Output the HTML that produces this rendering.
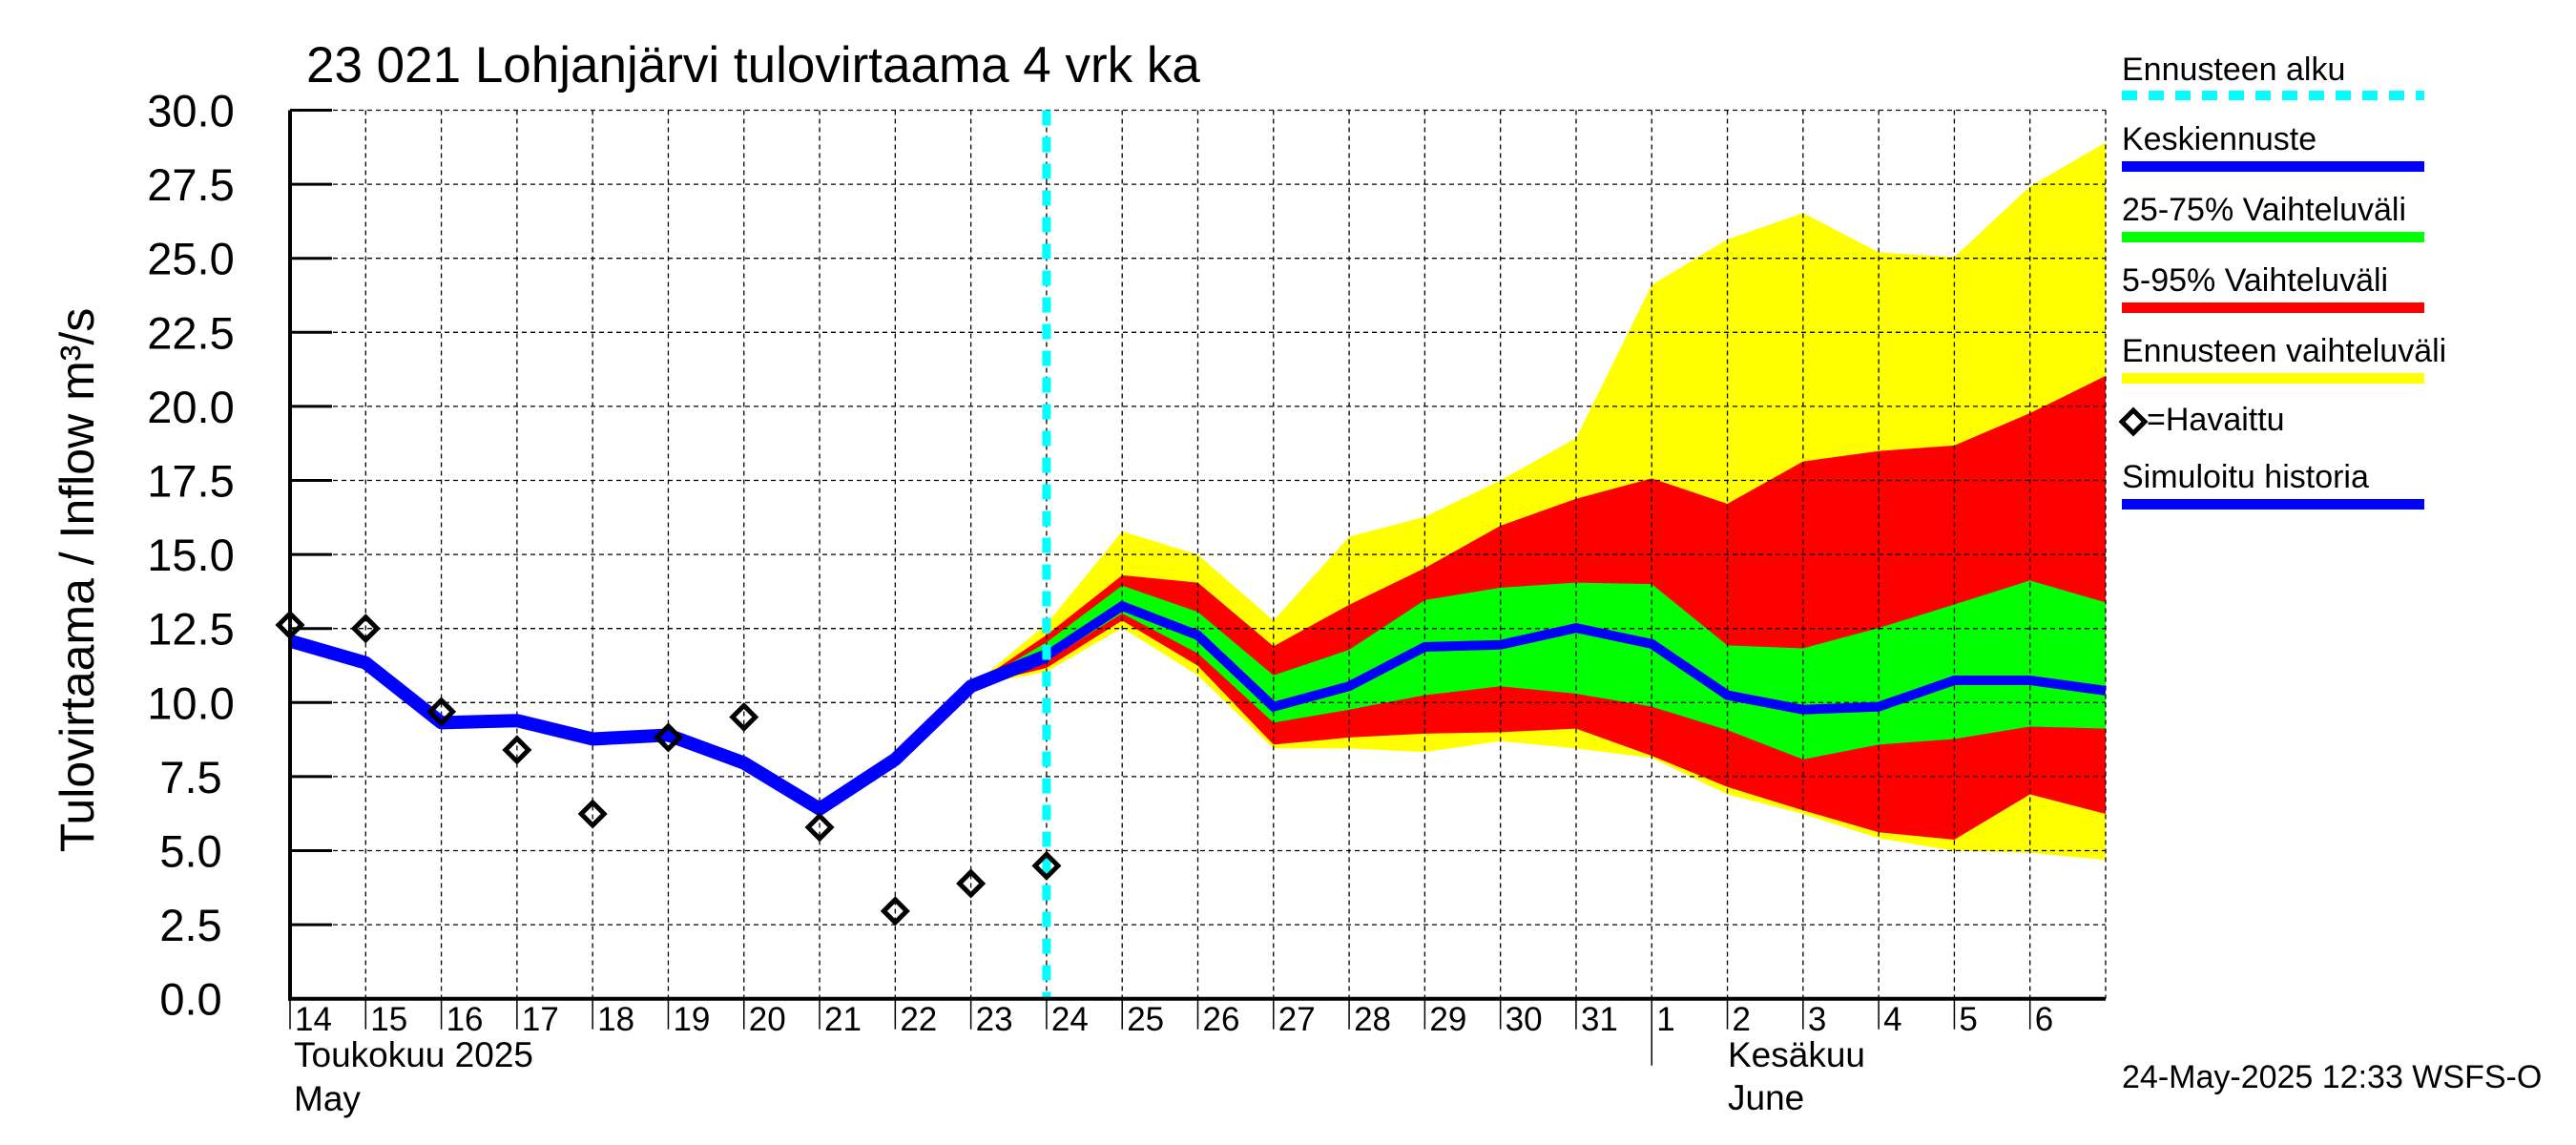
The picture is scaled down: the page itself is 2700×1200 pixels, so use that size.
<!DOCTYPE html>
<html><head><meta charset="utf-8"><style>
html,body{margin:0;padding:0;background:#fff}
svg{display:block;font-family:"Liberation Sans",sans-serif}
</style></head><body>
<svg id="chart" width="2700" height="1200" viewBox="0 0 2700 1200" xmlns="http://www.w3.org/2000/svg">
<text x="321" y="86" font-size="53">23 021 Lohjanjärvi tulovirtaama 4 vrk ka</text>
<g id="bands"></g>
<g id="grid"></g>
<g id="lines"></g>
<g id="axes"></g>
<text transform="translate(98,608) rotate(-90)" text-anchor="middle" font-size="50">Tulovirtaama / Inflow    m³/s</text>
<text x="308" y="1118" font-size="37">Toukokuu  2025</text>
<text x="308" y="1164" font-size="37">May</text>
<text x="1811" y="1118" font-size="37">Kesäkuu</text>
<text x="1811" y="1163" font-size="37">June</text>
<g font-size="34">
<text x="2224" y="84">Ennusteen alku</text>
<line x1="2224" y1="100" x2="2541" y2="100" stroke="#00ffff" stroke-width="10" stroke-dasharray="16,12"/>
<text x="2224" y="157">Keskiennuste</text>
<rect x="2224" y="169" width="317" height="11" fill="#0000ff"/>
<text x="2224" y="231">25-75% Vaihteluväli</text>
<rect x="2224" y="243" width="317" height="11" fill="#00ff00"/>
<text x="2224" y="305">5-95% Vaihteluväli</text>
<rect x="2224" y="317" width="317" height="11" fill="#ff0000"/>
<text x="2224" y="379">Ennusteen vaihteluväli</text>
<rect x="2224" y="391" width="317" height="11" fill="#ffff00"/>
<path d="M2224,442 L2236,430 L2248,442 L2236,454 Z" fill="none" stroke="#000" stroke-width="5"/>
<text x="2250" y="451">=Havaittu</text>
<text x="2224" y="511">Simuloitu historia</text>
<rect x="2224" y="523" width="317" height="11" fill="#0000ff"/>
</g>
<text x="2224" y="1140" font-size="34">24-May-2025 12:33 WSFS-O</text>
</svg>
<script>
const dayLabels=["14","15","16","17","18","19","20","21","22","23","24","25","26","27","28","29","30","31","1","2","3","4","5","6"];
const yTicks=["0.0","2.5","5.0","7.5","10.0","12.5","15.0","17.5","20.0","22.5","25.0","27.5","30.0"];
const simHistory=[12.08,11.34,9.32,9.39,8.77,8.9,7.96,6.41,8.08,10.55,11.58];
const observed=[12.62,12.5,9.69,8.4,6.24,8.82,9.51,5.79,2.96,3.89,4.49];
const forecastStartDay=9; // index of day 23 where forecasts start
const median=[10.55,11.58,13.26,12.27,9.86,10.55,11.88,11.95,12.52,11.98,10.25,9.76,9.86,10.75,10.75,10.40];
const yellowHi=[10.55,12.65,15.78,14.99,12.77,15.6,16.27,17.5,18.93,24.1,25.64,26.53,25.2,25.04,27.43,28.91];
const yellowLo=[10.55,11.04,12.52,10.92,8.45,8.45,8.33,8.7,8.45,8.13,6.9,6.24,5.42,5.0,4.93,4.68];
const redHi=[10.55,12.28,14.3,14.05,11.9,13.3,14.54,15.97,16.88,17.57,16.71,18.14,18.49,18.68,19.77,21.03];
const redLo=[10.55,11.17,12.77,11.24,8.58,8.82,8.95,9.0,9.12,8.2,7.15,6.36,5.62,5.37,6.9,6.24];
const greenHi=[10.55,12.03,13.95,13.06,10.92,11.78,13.46,13.88,14.05,14.0,11.93,11.83,12.52,13.31,14.12,13.38];
const greenLo=[10.55,11.41,13.01,11.66,9.32,9.76,10.25,10.55,10.30,9.86,9.07,8.08,8.58,8.77,9.19,9.12];
const forecastLineDay=10;

const NS="http://www.w3.org/2000/svg";
const X0=304,X1=2207,Y0=1046.7,Y1=115.5,NDAYS=24,YMAX=30;
const xs=d=>X0+d*(X1-X0)/NDAYS;
const ys=v=>Y0-v*(Y0-Y1)/YMAX;
function mk(tag,attrs,parent){const e=document.createElementNS(NS,tag);for(const k in attrs)e.setAttribute(k,attrs[k]);parent.appendChild(e);return e;}
const grid=document.getElementById('grid'),axes=document.getElementById('axes'),bands=document.getElementById('bands'),lines=document.getElementById('lines');

function band(hi,lo,color,name){
  let pts=[];
  hi.forEach((v,i)=>pts.push(xs(forecastStartDay+i)+','+ys(v)));
  for(let i=lo.length-1;i>=0;i--)pts.push(xs(forecastStartDay+i)+','+ys(lo[i]));
  const p=mk('polygon',{points:pts.join(' '),fill:color},bands);
  
  
}
band(yellowHi,yellowLo,'#ffff00','band-forecast-range');
band(redHi,redLo,'#ff0000','band-5-95');
band(greenHi,greenLo,'#00ff00','band-25-75');

for(let d=1;d<=NDAYS;d++){
  const l=mk('line',{x1:xs(d),x2:xs(d),y1:Y1,y2:Y0,stroke:'#000','stroke-width':1.3,'stroke-dasharray':'5,4'},grid);
  
  
}
yTicks.forEach((t,i)=>{
  const v=parseFloat(t),y=ys(v);
  if(i>0){
    const g=mk('line',{x1:X0,x2:X1,y1:y,y2:y,stroke:'#000','stroke-width':1.3,'stroke-dasharray':'5,4'},grid);
    
    
  }
  const tk=mk('line',{x1:X0,x2:X0+44,y1:y,y2:y,stroke:'#000','stroke-width':3},axes);
  
  
  const tx=mk('text',{x:200,y:y+17,'text-anchor':'middle','font-size':47},axes);
  tx.textContent=t;
  
  
});

// simulated history
const sh=mk('polyline',{points:simHistory.map((v,i)=>xs(i)+','+ys(v)).join(' '),fill:'none',stroke:'#0000ff','stroke-width':14,'stroke-linejoin':'round'},lines);


const md=mk('polyline',{points:median.map((v,i)=>xs(forecastStartDay+i)+','+ys(v)).join(' '),fill:'none',stroke:'#0000ff','stroke-width':10},lines);


const fl=mk('line',{x1:xs(forecastLineDay),x2:xs(forecastLineDay),y1:Y1,y2:Y0,stroke:'#00ffff','stroke-width':9,'stroke-dasharray':'16,12'},lines);


observed.forEach((v,i)=>{
  const x=xs(i),y=ys(v),r=12;
  const p=mk('path',{d:`M${x-r},${y} L${x},${y-r} L${x+r},${y} L${x},${y+r} Z`,fill:'none',stroke:'#000','stroke-width':5},lines);
  
  
});

// axes
const la=mk('line',{x1:X0,x2:X0,y1:Y1,y2:Y0+2,stroke:'#000','stroke-width':4},axes);


const ba=mk('line',{x1:X0-2,x2:X1,y1:Y0,y2:Y0,stroke:'#000','stroke-width':4},axes);


dayLabels.forEach((t,i)=>{
  const x=xs(i);
  const len=(t==="1")?70:32;
  const tk=mk('line',{x1:x,x2:x,y1:Y0,y2:Y0+len,stroke:'#000','stroke-width':1.5},axes);
  
  
  const tx=mk('text',{x:x+5,y:1080,'font-size':35},axes);
  tx.textContent=t;
  
  
});
</script>
</body></html>
